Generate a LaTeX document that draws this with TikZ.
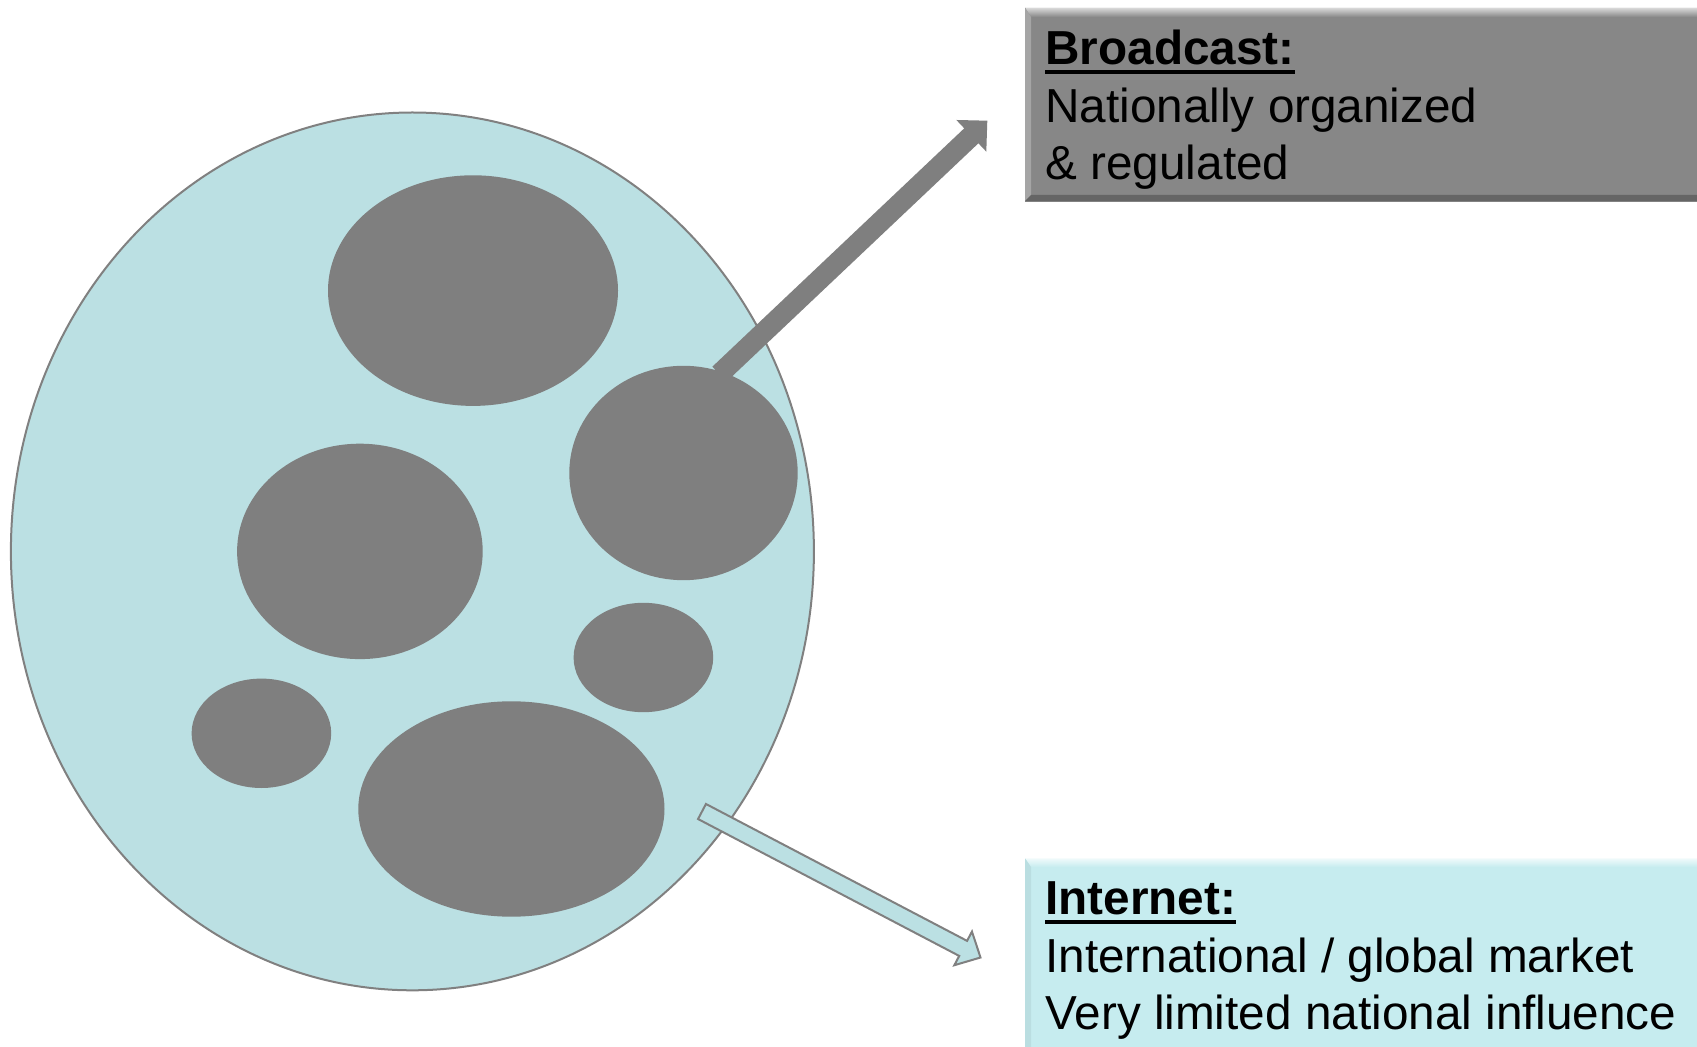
\documentclass[tikz,border=0pt]{standalone}
\usepackage{fontspec}
\setmainfont{Liberation Sans}
\usetikzlibrary{shapes.geometric,calc}
\definecolor{skyfill}{HTML}{BBE0E3}
\definecolor{blobgray}{HTML}{7F7F7F}
\definecolor{edgegray}{HTML}{808080}
\definecolor{bcgray}{HTML}{878787}
\definecolor{netcyan}{HTML}{C6ECEF}
\newcommand\myul[1]{\setbox0=\hbox{#1}\copy0\kern-\wd0\rule[-4.5pt]{\wd0}{2pt}}
\newcommand\blockarrow[6]{%
  \coordinate (tmpH) at ($(#3)!#6!(#2)$);
  \path[#1] ($(#2)!#4!90:(#3)$) -- ($(tmpH)!#4!90:(#3)$) -- ($(tmpH)!#5!90:(#3)$) -- (#3)
    -- ($(tmpH)!#5!-90:(#3)$) -- ($(tmpH)!#4!-90:(#3)$) -- ($(#2)!#4!-90:(#3)$) -- cycle;}
\begin{document}
\begin{tikzpicture}[x=0.5pt,y=-0.5pt,
  world/.style={ellipse,fill=skyfill,draw=edgegray,line width=1pt,inner sep=0pt},
  blob/.style={ellipse,fill=blobgray,draw=none,inner sep=0pt},
  panel/.style={rectangle,anchor=north west,inner sep=0pt,draw=none},
  boxtext/.style={anchor=base west,inner sep=0pt,font=\fontsize{23.85pt}{28.6pt}\selectfont},
  grayarrow/.style={fill=blobgray},
  cyanarrow/.style={fill=skyfill,draw=edgegray,line width=1pt,line join=miter}]
\useasboundingbox (0,0) rectangle (1697,1047);
\clip (0,0) rectangle (1697,1047);
\fill[white] (0,0) rectangle (1697,1047);
% world and markets
\node[world,minimum width=401.5pt,minimum height=438.9pt] (world) at (412.4,551.4) {};
\node[blob,minimum width=145pt,minimum height=115.3pt] (e1) at (473,290.6) {};
\node[blob,minimum width=114.2pt,minimum height=107.2pt] (e2) at (683.5,473) {};
\node[blob,minimum width=122.8pt,minimum height=107.7pt] (e3) at (359.9,551.4) {};
\node[blob,minimum width=69.8pt,minimum height=54.7pt] (e4) at (643.4,657.5) {};
\node[blob,minimum width=69.8pt,minimum height=54.7pt] (e5) at (261.4,733.3) {};
\node[blob,minimum width=153.1pt,minimum height=107.7pt] (e6) at (511.4,809) {};
% Broadcast panel
\node[panel,fill=bcgray,minimum width=350pt,minimum height=96.8pt] (bcbox) at (1025,7.6) {};
\shade[top color=white!70!bcgray,bottom color=bcgray] (1025,7.6) -- (1720,7.6) -- (1720,17) -- (1031,17) -- cycle;
\fill[white!25!bcgray] (1025,7.6) -- (1031,17) -- (1031,195) -- (1025,201.2) -- cycle;
\fill[black!25!bcgray] (1025,201.2) -- (1031,195) -- (1720,195) -- (1720,201.2) -- cycle;
\node[boxtext] (bc1) at (1045,65) {\myul{\textbf{Broadcast:}}};
\node[boxtext] (bc2) at (1045,122.4) {Nationally organized};
\node[boxtext] (bc3) at (1045,179.8) {\& regulated};
% Internet panel
\node[panel,fill=netcyan,minimum width=350pt,minimum height=100pt] (netbox) at (1025,858.3) {};
\shade[top color=white!75!netcyan,bottom color=netcyan] (1025,858.3) -- (1720,858.3) -- (1720,867) -- (1031,867) -- cycle;
\fill[black!6!netcyan] (1025,858.3) -- (1031,867) -- (1031,1060) -- (1025,1060) -- cycle;
\node[boxtext] (net1) at (1045,914.6) {\myul{\textbf{Internet:}}};
\node[boxtext] (net2) at (1045,972) {International / global market};
\node[boxtext] (net3) at (1045,1029.4) {Very limited national influence};
% arrows
\coordinate (bTail) at (719.4,374.2);
\coordinate (bTip) at (987.3,120.7);
\blockarrow{grayarrow}{bTail}{bTip}{5.15pt}{10.9pt}{11pt}
\coordinate (nTail) at (702,811.5);
\coordinate (nTip) at (980.5,957.5);
\blockarrow{cyanarrow}{nTail}{nTip}{4.25pt}{9.5pt}{9.8pt}
\end{tikzpicture}
\end{document}
